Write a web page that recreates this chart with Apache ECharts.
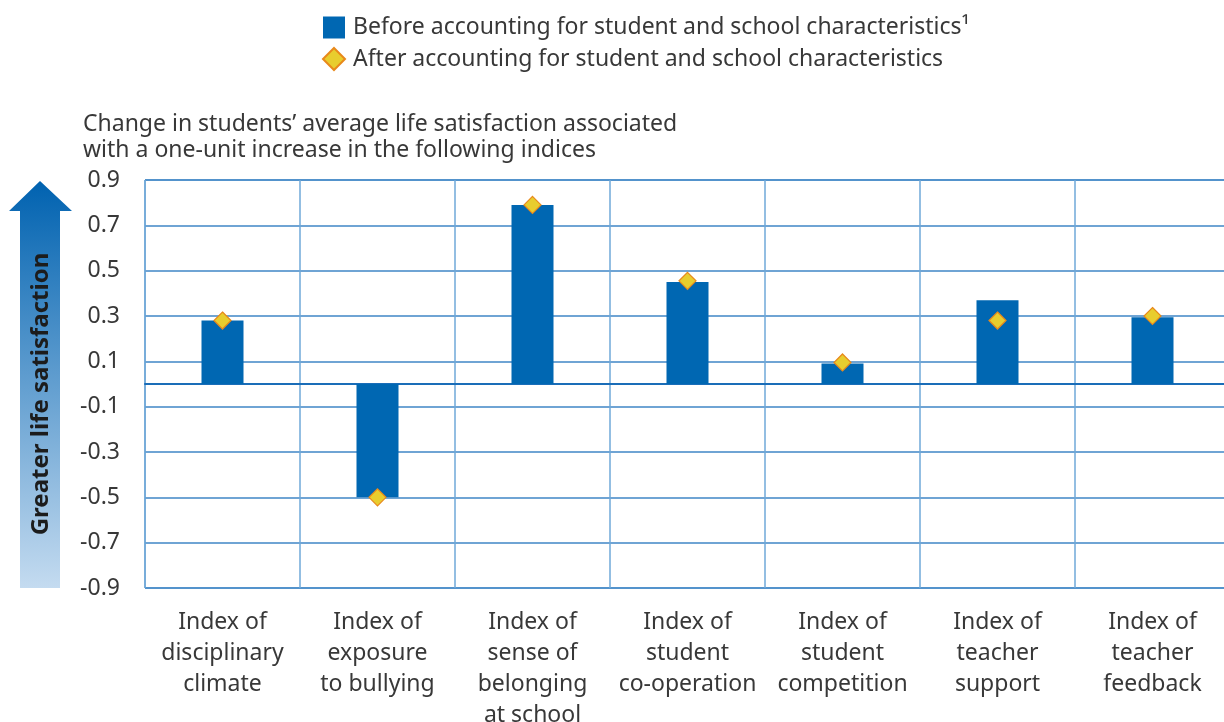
<!DOCTYPE html>
<html>
<head>
<meta charset="utf-8">
<script src="https://cdn.jsdelivr.net/npm/echarts@6/dist/echarts.min.js"></script>
<style>
  html, body { margin: 0; padding: 0; background: #fff; }
  #chart { width: 1224px; height: 722px; }
</style>
</head>
<body>
<div id="chart"></div>
<script>
// 数据
const categories = [
  'Index of\ndisciplinary\nclimate',
  'Index of\nexposure\nto bullying',
  'Index of\nsense of\nbelonging\nat school',
  'Index of\nstudent\nco-operation',
  'Index of\nstudent\ncompetition',
  'Index of\nteacher\nsupport',
  'Index of\nteacher\nfeedback'
]
const beforeValues = [0.28, -0.50, 0.79, 0.45, 0.09, 0.37, 0.295]
const afterValues = [0.28, -0.50, 0.79, 0.455, 0.095, 0.28, 0.30]
const seriesNames = [
  'Before accounting for student and school characteristics¹',
  'After accounting for student and school characteristics'
]
const yTitle = 'Change in students\u2019 average life satisfaction associated\nwith a one-unit increase in the following indices'

const font = 'Noto Sans'
const textColor = '#383838'

const chart = echarts.init(document.getElementById('chart'))

const options = {
  animation: false,
  textStyle: { fontFamily: font },
  title: {
    text: yTitle,
    left: 78,
    top: 106,
    textStyle: {
      fontFamily: font,
      fontSize: 23,
      fontWeight: 'normal',
      lineHeight: 26,
      color: textColor
    }
  },
  legend: {
    orient: 'vertical',
    left: 317,
    top: 11,
    itemWidth: 22,
    itemHeight: 22,
    itemGap: 8,
    textStyle: { fontFamily: font, fontSize: 23, lineHeight: 22, color: textColor, padding: [0, 0, 0, 3] },
    data: [
      { name: seriesNames[0], icon: 'rect' },
      { name: seriesNames[1], icon: 'diamond' }
    ]
  },
  // 网格
  grid: {
    left: 145,
    top: 180,
    width: 1085,
    height: 408,
    outerBoundsMode: 'none',
    containLabel: false,
    show: true,
    borderColor: '#2e7bc1',
    borderWidth: 1
  },
  xAxis: {
    type: 'category',
    data: categories,
    boundaryGap: true,
    axisLine: { show: true, onZero: true, lineStyle: { color: '#1a6db8', width: 2 } },
    axisTick: { show: false },
    axisLabel: {
      interval: 0,
      margin: 19,
      fontFamily: font,
      fontSize: 23,
      lineHeight: 31,
      color: textColor
    },
    splitLine: { show: true, interval: 0, lineStyle: { color: '#6fa8d8', width: 1.5 } }
  },
  yAxis: {
    type: 'value',
    min: -0.9,
    max: 0.9,
    interval: 0.2,
    axisLine: { show: false },
    axisTick: { show: false },
    axisLabel: {
      margin: 25,
      fontFamily: font,
      fontSize: 23,
      color: textColor,
      formatter: (v) => (Math.round(v * 10) / 10).toFixed(1)
    },
    splitLine: { show: true, lineStyle: { color: '#3f86c6', width: 1.5 } }
  },
  // 左侧箭头
  graphic: [
    {
      type: 'polygon',
      shape: {
        points: [[9, 211], [40, 181], [72, 211], [60, 211], [60, 588], [20, 588], [20, 211]]
      },
      style: {
        fill: new echarts.graphic.LinearGradient(0, 0, 0, 1, [
          { offset: 0, color: '#0062b0' },
          { offset: 1, color: '#c4dbf0' }
        ])
      }
    },
    {
      type: 'text',
      x: 41,
      y: 394,
      rotation: Math.PI / 2,
      style: {
        text: 'Greater life satisfaction',
        fontFamily: font,
        fontSize: 24,
        fontWeight: 'bold',
        fill: '#1c1c1c',
        align: 'center',
        verticalAlign: 'middle'
      }
    }
  ],
  series: [
    {
      name: seriesNames[0],
      type: 'bar',
      barWidth: 42,
      itemStyle: { color: '#0067b2' },
      data: beforeValues
    },
    {
      name: seriesNames[1],
      type: 'scatter',
      symbol: 'diamond',
      symbolSize: 17,
      itemStyle: { color: '#e8cd2e', borderColor: '#e8891b', borderWidth: 1.2, opacity: 1 },
      z: 5,
      data: afterValues
    }
  ]
}

options && chart.setOption(options, true)
</script>
</body>
</html>
